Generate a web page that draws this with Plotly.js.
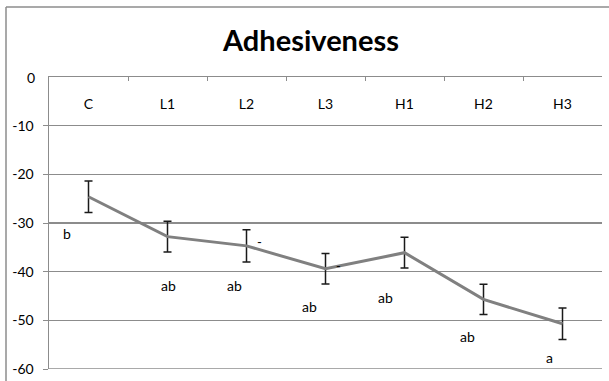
<!DOCTYPE html>
<html>
<head>
<meta charset="utf-8">
<script src="https://cdn.plot.ly/plotly-3.0.1.min.js"></script>
<style>
  html, body { margin: 0; padding: 0; background: #fff; overflow: hidden; }
  #chart { width: 609px; height: 381px; }
</style>
</head>
<body>
<div id="chart"></div>
<script>
// ---- Data ----
const categories = ['C', 'L1', 'L2', 'L3', 'H1', 'H2', 'H3'];
const adhesiveness = [-24.6, -32.8, -34.7, -39.4, -36.1, -45.7, -50.7];
const errors = [3.25, 3.15, 3.3, 3.15, 3.15, 3.1, 3.25];
const groupLetters = ['b', 'ab', 'ab', 'ab', 'ab', 'ab', 'a'];
const yTickValues = [0, -10, -20, -30, -40, -50, -60];

// ---- Layout config for letter labels (offset in px, y in axis units) ----
const letterPlacement = [
  {dx: -22, y: -32.2},
  {dx: 1, y: -42.8},
  {dx: -12, y: -42.8},
  {dx: -16, y: -47.2},
  {dx: -19, y: -45.4},
  {dx: -16, y: -53.4},
  {dx: -13, y: -57.6}
];

const FONT = 'Lato, "Open Sans", sans-serif';
const GRID = '#8c8c8c';

const trace = {
  type: 'scatter',
  mode: 'lines',
  x: categories,
  y: adhesiveness,
  line: {color: '#808080', width: 3},
  error_y: {type: 'data', array: errors, visible: true, color: '#1a1a1a', thickness: 1.5, width: 4},
  hoverinfo: 'skip',
  showlegend: false
};

const annotations = groupLetters.map((t, i) => ({
  x: categories[i], y: letterPlacement[i].y, xref: 'x', yref: 'y',
  text: t, showarrow: false, xshift: letterPlacement[i].dx,
  font: {family: FONT, size: 14, color: '#000'}
}));
// stray dash marks beside L2 and L3 bars
annotations.push({x: categories[2], y: -34.0, xref: 'x', yref: 'y', text: '-', showarrow: false, xshift: 13, font: {family: FONT, size: 13, color: '#000'}});
annotations.push({x: categories[3], y: -38.8, xref: 'x', yref: 'y', text: '-', showarrow: false, xshift: 13, font: {family: FONT, size: 13, color: '#000'}});
// top y tick label (Plotly hides it next to inside x tick labels)
annotations.push({x: 0, xref: 'paper', xanchor: 'right', xshift: -12, y: yTickValues[0], yref: 'y',
  text: String(yTickValues[0]), showarrow: false, font: {family: FONT, size: 14, color: '#000'}});

const layout = {
  width: 609, height: 381,
  margin: {l: 49, r: 7, t: 77, b: 12, pad: 0},
  paper_bgcolor: '#fff', plot_bgcolor: '#fff',
  title: {
    text: '<b>Adhesiveness</b>',
    font: {family: FONT, size: 29, color: '#000'},
    x: 311 / 609, xanchor: 'center', xref: 'container',
    y: 1 - 41 / 381, yanchor: 'middle', yref: 'container'
  },
  xaxis: {
    type: 'category',
    range: [-0.5, 6.5],
    side: 'top',
    showline: true, linecolor: GRID, linewidth: 1.5,
    ticks: 'inside', tickson: 'boundaries', ticklen: 4, tickcolor: GRID, tickwidth: 1,
    ticklabelposition: 'inside', ticklabelstandoff: 18,
    showgrid: false, zeroline: false,
    tickfont: {family: FONT, size: 14, color: '#000'},
    fixedrange: true
  },
  yaxis: {
    range: [-60, 0],
    tickvals: yTickValues,
    ticktext: yTickValues.map(String),
    showline: true, linecolor: GRID, linewidth: 1.5,
    ticks: 'outside', ticklen: 5, tickcolor: GRID, tickwidth: 1,
    ticklabelstandoff: 6,
    showgrid: true, gridcolor: GRID, gridwidth: 1.5,
    zeroline: false,
    tickfont: {family: FONT, size: 14, color: '#000'},
    fixedrange: true
  },
  shapes: [
    // chart-area border (left and top edges visible in the crop)
    {type: 'line', xref: 'paper', yref: 'paper',
     x0: (6 - 49) / 553, x1: (6 - 49) / 553,
     y0: (369 - 400) / 292, y1: (369 - 7) / 292,
     line: {color: '#8c8c8c', width: 1.5}, layer: 'below'},
    {type: 'line', xref: 'paper', yref: 'paper',
     x0: (6 - 49) / 553, x1: (609 - 49) / 553,
     y0: (369 - 7) / 292, y1: (369 - 7) / 292,
     line: {color: '#8c8c8c', width: 1.5}, layer: 'below'},
    {type: 'line', xref: 'paper', yref: 'y', x0: 0, x1: 1, y0: -60, y1: -60,
     line: {color: GRID, width: 1.5}, layer: 'below'}
  ],
  annotations: annotations
};

Plotly.newPlot('chart', [trace], layout, {staticPlot: true, displayModeBar: false});
</script>
</body>
</html>
